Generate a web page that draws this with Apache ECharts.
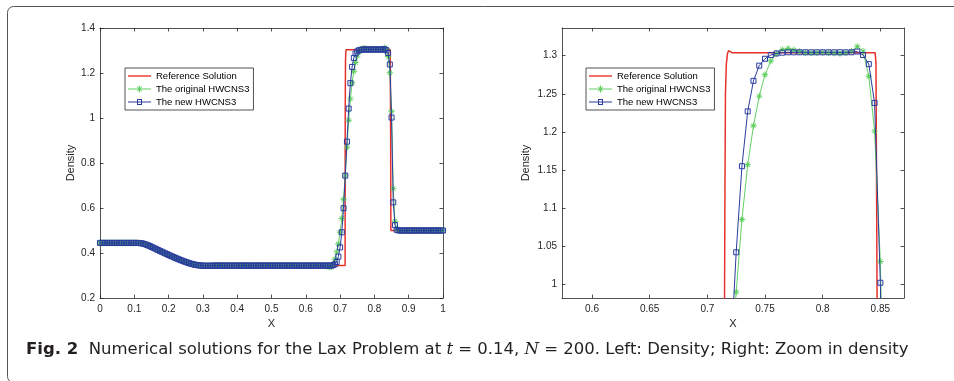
<!DOCTYPE html>
<html>
<head>
<meta charset="utf-8">
<script src="https://cdn.jsdelivr.net/npm/echarts@6/dist/echarts.min.js"></script>
<style>
html,body{margin:0;padding:0;background:#fff;}
#chart{width:954px;height:381px;}
</style>
</head>
<body>
<div id="chart"></div>
<script>
// ---------------- DATA ----------------
const N = 200; // grid cells; numerical solutions sampled at x = i/N
const seriesNames = ['Reference Solution', 'The original HWCNS3', 'The new HWCNS3'];

// Reference (fine-grid) solution
const refX = [0, 0.131, 0.15, 0.175, 0.2, 0.225, 0.25, 0.272, 0.7146, 0.7149, 0.7152, 0.7157, 0.7165, 0.7175, 0.7184, 0.7195, 0.7213, 0.8455, 0.8462, 0.8468, 0.8474, 0.8480, 1];
const refY = [0.445, 0.445, 0.4303, 0.4113, 0.3930, 0.3754, 0.3583, 0.344, 0.344, 0.98, 1.10, 1.25, 1.29, 1.303, 1.3066, 1.305, 1.304, 1.304, 1.29, 1.10, 0.90, 0.50, 0.50];

// The new HWCNS3 (i = 0..200)
const newHW = [
  0.445,0.445,0.445,0.445,0.445,0.445,0.445,0.445,0.445,0.445,
  0.445,0.445,0.445,0.445,0.445,0.445,0.445,0.445,0.445,0.445,
  0.445,0.445,
  0.4448,0.4443,0.4434,0.4419,0.4398,0.4372,0.4342,0.4309,0.4274,0.4238,
  0.4202,0.4165,0.4129,0.4093,0.4057,0.4021,0.3986,0.3951,0.3916,0.3882,
  0.3848,0.3815,0.3782,0.3750,0.3718,0.3687,0.3657,0.3628,0.3600,0.3573,
  0.3548,0.3525,0.3504,0.3486,0.3471,0.3459,0.3449,0.3442,0.3437,0.3434,
  0.3432,0.3432,0.3433,0.3435,
  0.344,0.344,0.344,0.344,0.344,0.344,0.344,0.344,0.344,0.344,
  0.344,0.344,0.344,0.344,0.344,0.344,0.344,0.344,0.344,0.344,
  0.344,0.344,0.344,0.344,0.344,0.344,0.344,0.344,0.344,0.344,
  0.344,0.344,0.344,0.344,0.344,0.344,0.344,0.344,0.344,0.344,
  0.344,0.344,0.344,0.344,0.344,0.344,0.344,0.344,0.344,0.344,
  0.344,0.344,0.344,0.344,0.344,0.344,0.344,0.344,0.344,0.344,
  0.344,0.344,0.344,0.344,0.344,0.344,0.344,0.344,0.344,
  0.3442,0.3460,0.3500,0.3600,0.3840,0.4250,0.4920,0.5990,0.7440,0.8950,
  1.0420,1.1550,1.2270,1.2670,1.2870,1.2960,1.3010,1.3030,1.3040,
  1.3045,1.3045,1.3045,1.3045,1.3045,1.3045,1.3045,1.3045,1.3045,1.3045,1.3045,1.3045,
  1.3055,1.3010,1.2890,1.2380,1.0020,0.6250,0.5240,0.5030,0.5005,
  0.5,0.5,0.5,0.5,0.5,0.5,0.5,0.5,0.5,0.5,
  0.5,0.5,0.5,0.5,0.5,0.5,0.5,0.5,0.5,0.5,
  0.5,0.5,0.5,0.5,0.5,0.5
];

// The original HWCNS3 (i = 0..200)
const origHW = [
  0.445,0.445,0.445,0.445,0.445,0.445,0.445,0.445,0.445,0.445,
  0.445,0.445,0.445,0.445,0.445,0.445,0.445,0.445,0.445,0.445,
  0.445,0.445,
  0.4447,0.4442,0.4432,0.4417,0.4396,0.4370,0.4340,0.4307,0.4272,0.4236,
  0.4200,0.4163,0.4127,0.4091,0.4055,0.4019,0.3984,0.3949,0.3914,0.3880,
  0.3846,0.3813,0.3780,0.3748,0.3716,0.3685,0.3655,0.3626,0.3598,0.3571,
  0.3546,0.3523,0.3502,0.3484,0.3469,0.3457,0.3447,0.3440,0.3435,0.3432,
  0.3430,0.3431,0.3433,0.3435,
  0.344,0.344,0.344,0.344,0.344,0.344,0.344,0.344,0.344,0.344,
  0.344,0.344,0.344,0.344,0.344,0.344,0.344,0.344,0.344,0.344,
  0.344,0.344,0.344,0.344,0.344,0.344,0.344,0.344,0.344,0.344,
  0.344,0.344,0.344,0.344,0.344,0.344,0.344,0.344,0.344,0.344,
  0.344,0.344,0.344,0.344,0.344,0.344,0.344,0.344,0.344,0.344,
  0.344,0.344,0.344,0.344,0.344,0.344,0.344,0.344,0.344,0.344,
  0.344,0.344,0.344,0.344,0.344,
  0.3438,0.3425,0.3395,0.3380,0.3390,
  0.3500,0.3720,0.4050,0.4410,0.4920,0.5530,0.6390,0.7460,0.8700,
  0.9900,1.0850,1.1570,1.2080,1.2470,1.2750,1.2930,1.3030,1.3080,
  1.3095,1.3075,1.3055,1.3040,1.3035,1.3038,1.3042,1.3040,1.3035,1.3030,1.3040,1.3060,
  1.3120,1.3060,1.2730,1.2010,1.0300,0.6860,0.5410,0.5060,0.5010,
  0.5,0.5,0.5,0.5,0.5,0.5,0.5,0.5,0.5,0.5,
  0.5,0.5,0.5,0.5,0.5,0.5,0.5,0.5,0.5,0.5,
  0.5,0.5,0.5,0.5,0.5,0.5
];

// Tick values
const leftXTicks  = [0, 0.1, 0.2, 0.3, 0.4, 0.5, 0.6, 0.7, 0.8, 0.9, 1];
const leftYTicks  = [0.2, 0.4, 0.6, 0.8, 1, 1.2, 1.4];
const rightXTicks = [0.6, 0.65, 0.7, 0.75, 0.8, 0.85];
const rightYTicks = [1, 1.05, 1.1, 1.15, 1.2, 1.25, 1.3];

// ---------------- BUILD ----------------
const xs = newHW.map((_, i) => i / N);
const refPts  = refX.map((x, i) => [x, refY[i]]);
const newPts  = xs.map((x, i) => [x, newHW[i]]);
const origPts = xs.map((x, i) => [x, origHW[i]]);

const AX = '#262626';
const RED = '#e8312c', GREEN = '#62cf62', BLUE = '#2a3c9e';
const FONT = '"Liberation Sans", Arial, Helvetica, sans-serif';
const CAPFONT = '"DejaVu Sans", sans-serif';
const CAPSIZE = 16.5;
const fmt = v => String(Math.round(v * 1000) / 1000);
const STAR = 'path://M43,0H57V100H43Z M0,43H100V57H0Z M12,21L21,12L88,79L79,88Z M79,12L88,21L21,88L12,79Z';

// legend icons (line sample + marker, like MATLAB legends)
const ICON_RED   = 'path://M0,4.3H23V5.7H0Z';
const ICON_GREEN = 'path://M0,4.5H23V5.5H0Z M11,1.5H12V8.5H11Z M8.9,3.1L9.6,2.4L14.1,6.9L13.4,7.6Z M13.4,2.4L14.1,3.1L9.6,7.6L8.9,6.9Z';
const ICON_BLUE  = 'path://M0,4.5H23V5.5H0Z M9,2H14V8H9Z M10,3V7H13V3Z';

function axis(pos, gridIndex, min, max, ticks, labels, name, nameGap) {
  const a = {
    type: 'value', gridIndex, position: pos, min, max,
    axisLine: { show: true, onZero: false, lineStyle: { color: AX, width: 0.8 } },
    axisTick: { show: true, inside: true, length: 3.5, customValues: ticks, lineStyle: { color: AX, width: 0.8 } },
    axisLabel: { show: labels, customValues: ticks, formatter: fmt, color: AX, fontSize: 10, fontFamily: FONT,
                 margin: (pos === 'bottom') ? 6 : 5 },
    splitLine: { show: false }
  };
  if (name) {
    a.name = name; a.nameLocation = 'middle'; a.nameGap = nameGap;
    a.nameTextStyle = { color: AX, fontSize: 11, fontFamily: FONT };
  }
  return a;
}

function seriesFor(xi, yi) {
  return [
    { name: seriesNames[0], type: 'line', xAxisIndex: xi, yAxisIndex: yi, data: refPts,
      symbol: 'none', lineStyle: { color: RED, width: 1.5 }, itemStyle: { color: RED }, z: 2 },
    { name: seriesNames[1], type: 'line', xAxisIndex: xi, yAxisIndex: yi, data: origPts,
      symbol: STAR, symbolSize: 6.5, lineStyle: { color: GREEN, width: 1 },
      itemStyle: { color: GREEN }, z: 3 },
    { name: seriesNames[2], type: 'line', xAxisIndex: xi, yAxisIndex: yi, data: newPts,
      symbol: 'rect', symbolSize: 5, lineStyle: { color: BLUE, width: 1 },
      itemStyle: { color: 'rgba(255,255,255,0)', borderColor: BLUE, borderWidth: 1 }, z: 4 }
  ];
}

function legendAt(left, top) {
  return {
    orient: 'vertical', left, top,
    data: [
      { name: seriesNames[0], icon: ICON_RED,   itemStyle: { color: RED,   borderWidth: 0 } },
      { name: seriesNames[1], icon: ICON_GREEN, itemStyle: { color: GREEN, borderWidth: 0 } },
      { name: seriesNames[2], icon: ICON_BLUE,  itemStyle: { color: BLUE,  borderWidth: 0 } }
    ],
    itemWidth: 23, itemHeight: 10, itemGap: 3,
    padding: [3, 4, 3, 3],
    borderColor: AX, borderWidth: 0.8, backgroundColor: '#fff',
    textStyle: { color: '#000', fontSize: 9.5, fontFamily: FONT },
    selectedMode: false
  };
}

const chart = echarts.init(document.getElementById('chart'), null, { renderer: 'canvas' });
chart.setOption({
  animation: false,
  backgroundColor: '#fff',
  grid: [
    { left: 100, top: 28, width: 343, height: 270 },
    { left: 562, top: 28, width: 342, height: 270 }
  ],
  xAxis: [
    axis('bottom', 0, 0, 1, leftXTicks, true, 'X', 20),
    axis('top', 0, 0, 1, leftXTicks, false),
    axis('bottom', 1, 0.574, 0.8705, rightXTicks, true, 'X', 20),
    axis('top', 1, 0.574, 0.8705, rightXTicks, false)
  ],
  yAxis: [
    axis('left', 0, 0.2, 1.4, leftYTicks, true, 'Density', 24),
    axis('right', 0, 0.2, 1.4, leftYTicks, false),
    axis('left', 1, 0.982, 1.3364, rightYTicks, true, 'Density', 31),
    axis('right', 1, 0.982, 1.3364, rightYTicks, false)
  ],
  legend: [legendAt(125, 68), legendAt(586, 68)],
  series: [...seriesFor(0, 0), ...seriesFor(2, 2)],
  graphic: [
    { type: 'rect', silent: true, z: 100,
      shape: { x: 7.5, y: 6.5, width: 1000, height: 376, r: 6 },
      style: { fill: 'none', stroke: '#555', lineWidth: 1 } },
    { type: 'text', left: 26, top: 341, silent: true, z: 100,
      style: {
        text: '{b|Fig. 2}{n|  Numerical solutions for the Lax Problem at }{i|t}{n| = 0.14, }{i|N}{n| = 200. Left: Density; Right: Zoom in density}',
        rich: {
          b: { fontWeight: 'bold', fontSize: CAPSIZE, fontFamily: CAPFONT, fill: '#231f20' },
          n: { fontSize: CAPSIZE, fontFamily: CAPFONT, fill: '#231f20' },
          i: { fontSize: CAPSIZE, fontStyle: 'italic', fontFamily: '"DejaVu Serif", serif', fill: '#231f20' }
        }
      } }
  ]
});
</script>
</body>
</html>
